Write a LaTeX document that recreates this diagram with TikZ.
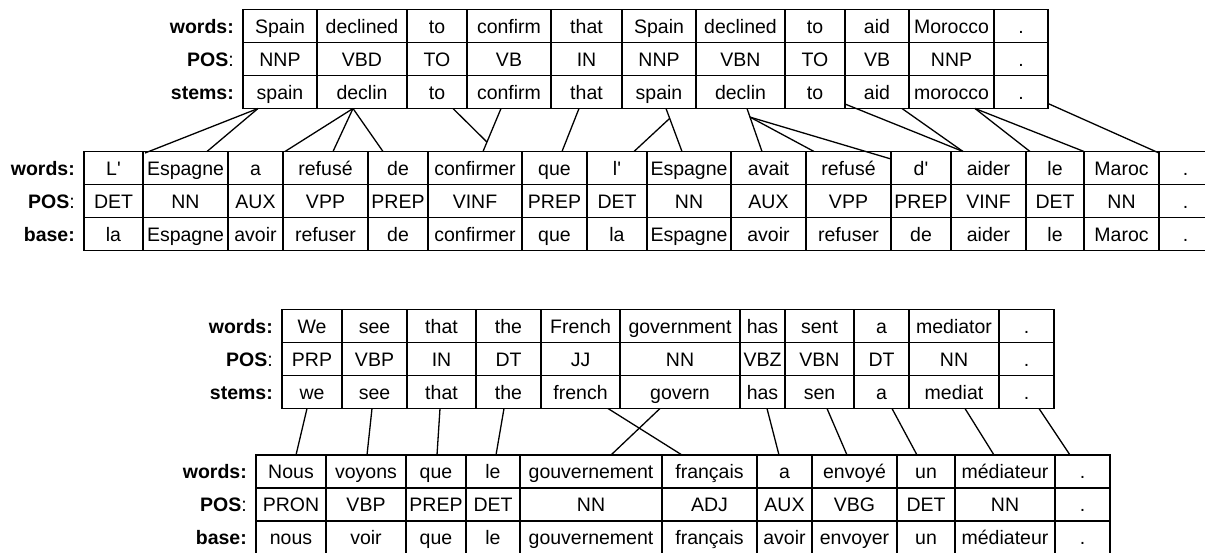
\documentclass[tikz,border=0pt]{standalone}
\usepackage{fontspec}
\newfontfamily\cellfont{Liberation Sans}
\usetikzlibrary{calc}

% one three-row table: #1 name, #2 top edge, #3 list of left/right/word/tag/stem
\newcommand\wordtable[3]{%
  \foreach \xl/\xr/\cA/\cB/\cC [count=\i] in {#3} {
    \node[cell, minimum width={(\xr-\xl)*1pt}] (#1-1-\i) at ({(\xl+\xr)/2},{#2+16.5}) {\cA};
    \node[cell, minimum width={(\xr-\xl)*1pt}] (#1-2-\i) at ({(\xl+\xr)/2},{#2+49.5}) {\cB};
    \node[cell, minimum width={(\xr-\xl)*1pt}] (#1-3-\i) at ({(\xl+\xr)/2},{#2+82.5}) {\cC};
  }%
}
% row labels: #1 name, #2 right edge, #3 top edge, #4 name of the third row
\newcommand\rowlabels[4]{%
  \node[rowlab] (#1-l1) at (#2,{#3+23.5}) {\textbf{words:}};
  \node[rowlab] (#1-l2) at (#2,{#3+56.5}) {\textbf{POS}:};
  \node[rowlab] (#1-l3) at (#2,{#3+89.5}) {\textbf{#4:}};
}

\begin{document}
\begin{tikzpicture}[x=1pt,y=-1pt,
  cell/.style={draw, line width=1.5pt, rectangle, inner sep=0pt, outer sep=0pt,
    minimum height=33pt, text height=17.5pt, text depth=3.5pt,
    font=\cellfont\fontsize{19.5}{23}\selectfont},
  rowlab/.style={anchor=base east, inner sep=0pt, font=\cellfont\fontsize{19.5}{23}\selectfont},
  link/.style={line width=1.3pt}]
\useasboundingbox (0,0) rectangle (1205,552);
\clip (0,0) rectangle (1205,552);

% ---- first pair of sentences ----
\wordtable{a}{9.5}{243/317/Spain/NNP/spain, 317/407/declined/VBD/declin, 407/467/to/TO/to,
  467/551/confirm/VB/confirm, 551/622/that/IN/that, 622/696/Spain/NNP/spain,
  696/785/declined/VBN/declin, 785/845/to/TO/to, 845/909/aid/VB/aid,
  909/994/Morocco/NNP/morocco, 994/1048/./././.}
\rowlabels{a}{234}{9.5}{stems}

\wordtable{b}{151.5}{84/143/L'/DET/la, 143/228/Espagne/NN/Espagne, 228/283/a/AUX/avoir,
  283/368/refusé/VPP/refuser, 368/428/de/PREP/de, 428/522/confirmer/VINF/confirmer,
  522/587/que/PREP/que, 587/647/l'/DET/la, 647/731/Espagne/NN/Espagne,
  731/806/avait/AUX/avoir, 806/891/refusé/VPP/refuser, 891/951/d'/PREP/de,
  951/1026/aider/VINF/aider, 1026/1084/le/DET/le, 1084/1159/Maroc/NN/Maroc,
  1159/1212/./././.}
\rowlabels{b}{75}{151.5}{base}

% alignments, first pair
\draw[link] ([xshift=15pt]a-3-1.south west) -- ([xshift=2pt,yshift=-1.5pt]b-1-2.north west);
\draw[link] ([xshift=15pt]a-3-1.south west) -- ([xshift=64pt]b-1-2.north west);
\draw[link] ([xshift=36pt]a-3-2.south west) -- ([xshift=2pt]b-1-4.north west);
\draw[link] ([xshift=36pt]a-3-2.south west) -- ([xshift=50pt]b-1-4.north west);
\draw[link] ([xshift=36pt]a-3-2.south west) -- ([xshift=15pt]b-1-5.north west);

\coordinate (cfA) at ([xshift=34pt]a-3-4.south west);
\coordinate (cfB) at ([xshift=55pt]b-1-6.north west);
\draw[link] (cfA) -- (cfB);
\draw[link] ([xshift=46pt]a-3-3.south west) -- ($(cfA)!0.78!(cfB)$);

\draw[link] ([xshift=28pt]a-3-5.south west) -- ([xshift=40pt]b-1-7.north west);

\coordinate (spA) at ([xshift=44pt]a-3-6.south west);
\coordinate (spB) at ([xshift=35pt]b-1-9.north west);
\draw[link] (spA) -- (spB);
\draw[link] ($(spA)!0.23!(spB)$) -- ([xshift=47pt]b-1-8.north west);

\coordinate (dcA) at ([xshift=51pt]a-3-7.south west);
\coordinate (dcB) at ([xshift=31pt]b-1-10.north west);
\draw[link] (dcA) -- (dcB);
\draw[link] ($(dcA)!0.2!(dcB)$) -- ([xshift=8pt]b-1-11.north west);
\draw[link] ($(dcA)!0.2!(dcB)$) -- ([yshift=-7.5pt]b-1-11.north east);

\draw[link] ([yshift=4.5pt]a-3-9.south west) -- ([xshift=12pt]b-1-13.north west);
\draw[link] ([xshift=57pt]a-3-9.south west) -- ([xshift=12pt]b-1-13.north west);

\draw[link] ([xshift=66pt]a-3-10.south west) -- ([xshift=4pt]b-1-14.north west);
\draw[link] ([xshift=66pt]a-3-10.south west) -- (b-1-15.north west);

\draw[link] ([yshift=5pt]a-3-11.south east) -- ([yshift=-1.5pt]b-1-16.north west);

% ---- second pair of sentences ----
\wordtable{c}{309.5}{282/342/We/PRP/we, 342/407/see/VBP/see, 407/476/that/IN/that,
  476/541/the/DT/the, 541/620/French/JJ/french, 620/740/government/NN/govern,
  740/785/has/VBZ/has, 785/854/sent/VBN/sen, 854/909/a/DT/a,
  909/999/mediator/NN/mediat, 999/1054/./././.}
\rowlabels{c}{273}{309.5}{stems}

\wordtable{d}{455}{256/326/Nous/PRON/nous, 326/406/voyons/VBP/voir, 406/466/que/PREP/que,
  466/520/le/DET/le, 520/662/gouvernement/NN/gouvernement, 662/757/français/ADJ/français,
  757/812/a/AUX/avoir, 812/897/envoyé/VBG/envoyer, 897/955/un/DET/un,
  955/1055/médiateur/NN/médiateur, 1055/1110/./././.}
\rowlabels{d}{247}{455}{base}

% alignments, second pair
\draw[link] ([xshift=25pt]c-3-1.south west) -- ([xshift=40pt]d-1-1.north west);
\draw[link] ([xshift=30pt]c-3-2.south west) -- ([xshift=41pt]d-1-2.north west);
\draw[link] ([xshift=33pt]c-3-3.south west) -- ([xshift=31pt]d-1-3.north west);
\draw[link] ([xshift=28pt]c-3-4.south west) -- ([xshift=30pt]d-1-4.north west);
\draw[link] ([xshift=67pt]c-3-5.south west) -- ([xshift=20pt]d-1-6.north west);
\draw[link] ([xshift=40pt]c-3-6.south west) -- ([xshift=91pt]d-1-5.north west);
\draw[link] ([xshift=27pt]c-3-7.south west) -- ([xshift=22pt]d-1-7.north west);
\draw[link] ([xshift=42pt]c-3-8.south west) -- ([xshift=35pt]d-1-8.north west);
\draw[link] ([xshift=38pt]c-3-9.south west) -- ([xshift=20pt]d-1-9.north west);
\draw[link] ([xshift=56pt]c-3-10.south west) -- ([xshift=39pt]d-1-10.north west);
\draw[link] ([xshift=40pt]c-3-11.south west) -- ([xshift=15pt]d-1-11.north west);
\end{tikzpicture}
\end{document}
